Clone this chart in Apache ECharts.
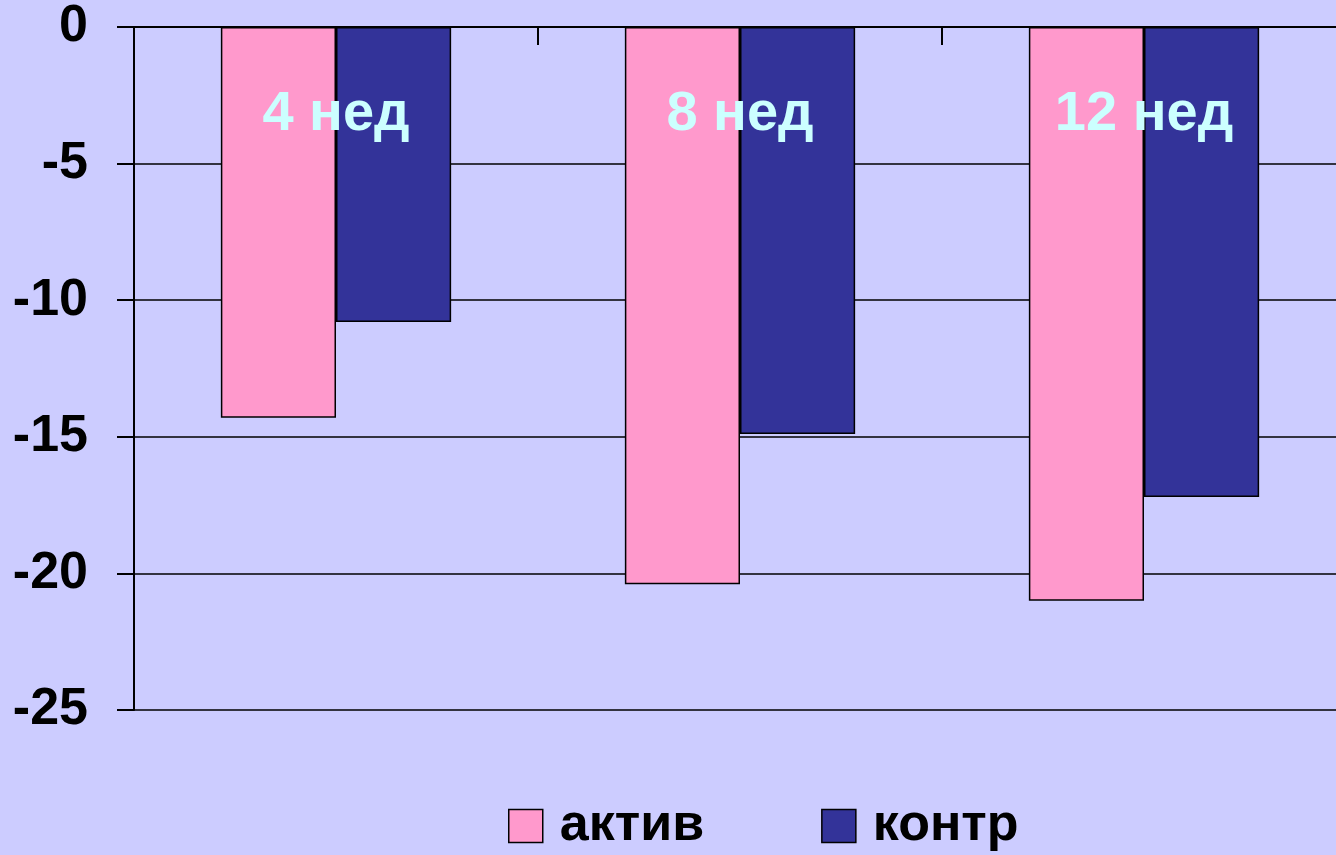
<!DOCTYPE html>
<html>
<head>
<meta charset="utf-8">
<script src="https://cdn.jsdelivr.net/npm/echarts@6/dist/echarts.min.js"></script>
<style>
  html, body { margin: 0; padding: 0; background: #ccccff; overflow: hidden; }
  /* график чуть шире окна: сетка уходит за правый край */
  #main { width: 1346px; height: 855px; }
</style>
</head>
<body>
<div id="main"></div>
<script>
// данные с картинки
var weeks = ['4 нед', '8 нед', '12 нед'];
var aktiv = [-14.3, -20.4, -21.0];
var kontr = [-10.8, -14.9, -17.2];
var seriesNames = ['актив', 'контр'];

var myChart = echarts.init(document.getElementById('main'));

myChart.setOption({
    backgroundColor: '#ccccff',
    animation: false,
    grid: { left: 134, right: 0, top: 27, bottom: 145 },
    legend: {
        data: seriesNames,
        left: 503,
        top: 795,
        itemWidth: 34,
        itemHeight: 33,
        itemGap: 117,
        icon: 'rect',
        itemStyle: { borderColor: '#000', borderWidth: 1.5 },
        textStyle: {
            fontFamily: 'Liberation Sans, Arial, sans-serif',
            fontWeight: 'bold',
            fontSize: 52,
            color: '#000',
            padding: [0, 0, 0, 12]
        }
    },
    xAxis: {
        type: 'category',
        data: weeks,
        position: 'top',
        z: 5,
        axisLine: { onZero: false, lineStyle: { color: '#000', width: 2 } },
        axisTick: { show: true, inside: true, interval: 0, length: 18, lineStyle: { color: '#000', width: 2 } },
        axisLabel: {
            inside: true,
            margin: 60,
            color: '#ccffff',
            fontFamily: 'Liberation Sans, Arial, sans-serif',
            fontWeight: 'bold',
            fontSize: 56
        },
        splitLine: { show: false }
    },
    yAxis: {
        type: 'value',
        min: -25,
        max: 0,
        interval: 5,
        axisLine: { show: true, lineStyle: { color: '#000', width: 2 } },
        axisTick: { show: true, length: 17, lineStyle: { color: '#000', width: 2 } },
        axisLabel: {
            margin: 46,
            color: '#000',
            fontFamily: 'Liberation Sans, Arial, sans-serif',
            fontWeight: 'bold',
            fontSize: 52
        },
        splitLine: { show: true, lineStyle: { color: '#000', width: 1.5 } }
    },
    series: [
        {
            name: seriesNames[0],
            type: 'bar',
            data: aktiv,
            barGap: '0%',
            barCategoryGap: '43%',
            itemStyle: { color: '#ff99cc', borderColor: '#000', borderWidth: 1.5 }
        },
        {
            name: seriesNames[1],
            type: 'bar',
            data: kontr,
            itemStyle: { color: '#333399', borderColor: '#000', borderWidth: 1.5 }
        }
    ]
});
</script>
</body>
</html>
